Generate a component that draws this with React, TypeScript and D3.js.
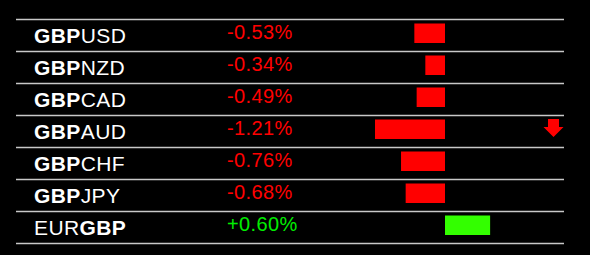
import React from "react";
import * as d3 from "d3";

const pairs = ["GBPUSD", "GBPNZD", "GBPCAD", "GBPAUD", "GBPCHF", "GBPJPY", "EURGBP"];
const changes = [-0.53, -0.34, -0.49, -1.21, -0.76, -0.68, 0.6];
// bar lengths as drawn in the reference (in %)
const barValues = [-0.53, -0.34, -0.49, -1.21, -0.76, -0.68, 0.78];

const W = 590;
const H = 255;

export default function App() {
  const y = d3.scaleBand<number>().domain(d3.range(pairs.length)).range([19, 243]).paddingInner(0);
  const x = d3.scaleLinear().domain([-1.21, 0]).range([375, 445]);
  const rowH = y.bandwidth();
  const maxIdx = d3.maxIndex(changes, (d) => Math.abs(d));
  const font = "'Liberation Sans', Arial, sans-serif";

  const renderPair = (p: string) => {
    const idx = p.indexOf("GBP");
    const parts = [
      { t: p.slice(0, idx), b: false },
      { t: "GBP", b: true },
      { t: p.slice(idx + 3), b: false },
    ].filter((s) => s.t.length);
    return parts.map((s, i) => (
      <tspan key={i} fontWeight={s.b ? "bold" : "normal"}>
        {s.t}
      </tspan>
    ));
  };

  return (
    <div style={{ position: "fixed", left: 0, top: 0, width: W, height: H, background: "#000" }}>
      <svg width={W} height={H} style={{ display: "block" }}>
        <rect width={W} height={H} fill="#000" />
        {d3.range(pairs.length + 1).map((i) => (
          <line
            key={"l" + i}
            x1={16}
            x2={564}
            y1={Math.round(19 + i * rowH) + 0.5}
            y2={Math.round(19 + i * rowH) + 0.5}
            stroke="#c8c8c8"
            strokeWidth={1.5}
          />
        ))}
        {pairs.map((p, i) => {
          const top = y(i)!;
          const v = barValues[i];
          const c = changes[i];
          const neg = c < 0;
          return (
            <g key={p}>
              <text x={34} y={top + 23.5} fill="#fff" fontFamily={font} fontSize={21} letterSpacing={0.4}>
                {renderPair(p)}
              </text>
              <text
                x={227}
                y={top + 20.3}
                fill={neg ? "#ff0000" : "#00ee00"}
                fontFamily={font}
                fontSize={20}
                letterSpacing={0.4}
              >
                {(c > 0 ? "+" : "") + c.toFixed(2) + "%"}
              </text>
              <rect
                x={Math.min(x(v), x(0))}
                y={top + 4.5}
                width={Math.abs(x(v) - x(0))}
                height={19.5}
                fill={neg ? "#ff0000" : "#33ff00"}
              />
            </g>
          );
        })}
        {(() => {
          const top = y(maxIdx)!;
          const down = changes[maxIdx] < 0;
          const cx = 553.5;
          const pts = down
            ? [
                [cx - 5.5, top + 4],
                [cx + 5.5, top + 4],
                [cx + 5.5, top + 12],
                [cx + 10, top + 12],
                [cx, top + 22],
                [cx - 10, top + 12],
                [cx - 5.5, top + 12],
              ]
            : [
                [cx - 5.5, top + 22],
                [cx + 5.5, top + 22],
                [cx + 5.5, top + 14],
                [cx + 10, top + 14],
                [cx, top + 4],
                [cx - 10, top + 14],
                [cx - 5.5, top + 14],
              ];
          return <polygon points={pts.map((q) => q.join(",")).join(" ")} fill={down ? "#ff0000" : "#33ff00"} />;
        })()}
      </svg>
    </div>
  );
}
